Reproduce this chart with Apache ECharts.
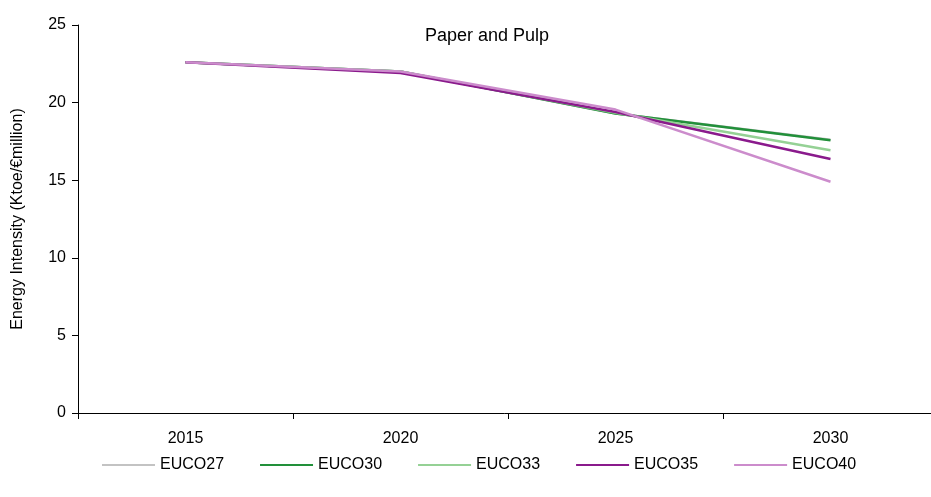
<!DOCTYPE html>
<html><head><meta charset="utf-8">
<script src="https://cdn.jsdelivr.net/npm/echarts@6/dist/echarts.min.js"></script>
<style>html,body{margin:0;padding:0;background:#fff}#c{width:931px;height:497px}</style>
</head><body><div id="c"></div>
<script>
var categories = ['2015', '2020', '2025', '2030'];
var seriesNames = ['EUCO27', 'EUCO30', 'EUCO33', 'EUCO35', 'EUCO40'];
var EUCO27 = [22.6, 22.0, 19.3, 17.6];
var EUCO30 = [22.6, 22.0, 19.3, 17.57];
var EUCO33 = [22.6, 22.0, 19.35, 16.93];
var EUCO35 = [22.6, 21.9, 19.4, 16.37];
var EUCO40 = [22.6, 22.0, 19.55, 14.9];
var yTicks = [0, 5, 10, 15, 20, 25];
var values = [EUCO27, EUCO30, EUCO33, EUCO35, EUCO40];
var colors = ['#c3c3c3', '#22903a', '#95d195', '#8a1a8c', '#cc8ccc'];
var font = 'Liberation Sans, Arial, sans-serif';
var chart = echarts.init(document.getElementById('c'));
chart.setOption({
  animation: false,
  title: {text: 'Paper and Pulp', left: 482, top: 22, textAlign: 'center',
    textStyle: {fontFamily: font, fontSize: 18, fontWeight: 'normal', color: '#000'}},
  legend: {data: seriesNames, left: 97, top: 452, itemWidth: 53, itemHeight: 14, itemGap: 36,
    icon: 'path://M0,6 L53,6 L53,8 L0,8 Z',
    textStyle: {fontFamily: font, fontSize: 16, color: '#000', padding: [0, 0, 0, 0]}},
  grid: {left: 78, right: -7, top: 25, bottom: 84, outerBoundsMode: 'none', containLabel: false},
  xAxis: {type: 'category', data: categories, boundaryGap: true,
    axisLine: {lineStyle: {color: '#000', width: 1}},
    axisTick: {show: true, alignWithLabel: false, length: 6, lineStyle: {color: '#000'}},
    axisLabel: {fontFamily: font, fontSize: 16, color: '#000', margin: 18}},
  yAxis: {type: 'value', min: 0, max: 25, interval: 5,
    name: 'Energy Intensity (Ktoe/€million)', nameLocation: 'middle', nameGap: 52,
    nameTextStyle: {fontFamily: font, fontSize: 16, color: '#000'},
    axisLine: {show: true, lineStyle: {color: '#000', width: 1}},
    axisTick: {show: true, length: 6, lineStyle: {color: '#000'}},
    splitLine: {show: false},
    axisLabel: {fontFamily: font, fontSize: 16, color: '#000', margin: 12,
      formatter: function (v) { return yTicks.indexOf(v) >= 0 ? String(v) : ''; }}},
  series: seriesNames.map(function (n, i) {
    return {name: n, type: 'line', data: values[i], symbol: 'none',
      lineStyle: {color: colors[i], width: 2.5}, itemStyle: {color: colors[i]}};
  })
});
</script></body></html>
